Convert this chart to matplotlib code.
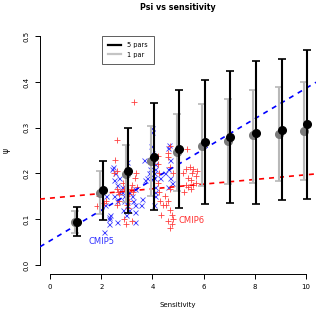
import matplotlib
matplotlib.use("Agg")
import matplotlib.pyplot as plt
from matplotlib.lines import Line2D

# Sensitivity values for the fitted error bars
sens = [1, 2, 3, 4, 5, 6, 7, 8, 9, 10]

# 5 parameter fit (black)
psi5 = [0.094, 0.163, 0.205, 0.236, 0.254, 0.268, 0.279, 0.289, 0.296, 0.308]
psi5_lo = [0.064, 0.098, 0.113, 0.120, 0.124, 0.133, 0.136, 0.134, 0.142, 0.145]
psi5_hi = [0.126, 0.227, 0.299, 0.353, 0.382, 0.404, 0.423, 0.445, 0.450, 0.469]

# 1 parameter fit (grey)
psi1 = [0.094, 0.158, 0.199, 0.227, 0.246, 0.261, 0.270, 0.283, 0.287, 0.293]
psi1_lo = [0.070, 0.111, 0.138, 0.150, 0.162, 0.172, 0.177, 0.180, 0.183, 0.185]
psi1_hi = [0.118, 0.205, 0.263, 0.303, 0.330, 0.352, 0.363, 0.383, 0.389, 0.401]

# CMIP5 models (blue x)
cmip5_x = [2.12, 2.30, 2.30, 2.30, 2.32, 2.60, 2.15, 2.20, 2.40, 2.45, 2.55, 2.50, 2.60,
           2.70, 2.80, 2.80, 2.90, 2.90, 2.85, 2.95, 3.00, 3.10, 3.10, 3.20, 3.25, 3.30,
           3.30, 3.30, 3.00, 3.30, 2.70, 2.60, 2.50, 3.55, 3.60, 3.70, 3.65, 3.80, 3.85,
           3.90, 4.00, 4.00, 4.05, 4.05, 4.10, 4.10, 4.10, 4.05, 4.10, 4.10, 3.95, 4.00,
           4.30, 4.50, 4.60, 4.70, 4.75, 4.60, 4.70, 4.65, 4.60]
cmip5_y = [0.071, 0.090, 0.100, 0.105, 0.110, 0.093, 0.130, 0.150, 0.210, 0.215, 0.200,
           0.185, 0.175, 0.190, 0.170, 0.160, 0.150, 0.140, 0.120, 0.110, 0.130, 0.120,
           0.160, 0.150, 0.140, 0.130, 0.115, 0.093, 0.225, 0.165, 0.160, 0.140, 0.150,
           0.130, 0.145, 0.185, 0.230, 0.190, 0.200, 0.210, 0.300, 0.290, 0.200, 0.190,
           0.170, 0.160, 0.150, 0.130, 0.210, 0.220, 0.260, 0.245, 0.190, 0.200, 0.210,
           0.190, 0.180, 0.170, 0.230, 0.262, 0.255]

# CMIP6 models (red +)
cmip6_x = [1.82, 1.90, 2.10, 2.20, 2.55, 2.60, 2.50, 2.60, 2.65, 2.70, 2.70, 2.60, 2.60,
           3.26, 2.90, 2.95, 3.00, 3.05, 3.10, 3.15, 3.20, 3.25, 3.30, 3.40, 3.35, 3.20,
           3.10, 3.00, 2.85, 2.90, 4.20, 4.20, 4.25, 4.20, 4.30, 4.35, 4.25, 4.40, 4.70,
           4.60, 4.60, 4.50, 4.60, 4.70, 4.75, 4.80, 4.75, 4.70, 4.60, 4.55, 4.70, 4.80,
           4.70, 5.34, 5.20, 5.30, 5.40, 5.50, 5.55, 5.60, 5.70, 5.75, 5.60, 5.40, 5.30,
           5.50, 5.70, 5.25, 5.45]
cmip6_y = [0.129, 0.150, 0.135, 0.140, 0.230, 0.205, 0.200, 0.165, 0.160, 0.155, 0.140,
           0.130, 0.273, 0.356, 0.100, 0.090, 0.130, 0.125, 0.155, 0.165, 0.175, 0.160,
           0.190, 0.170, 0.200, 0.095, 0.140, 0.150, 0.180, 0.165, 0.239, 0.220, 0.200,
           0.180, 0.140, 0.110, 0.160, 0.130, 0.260, 0.245, 0.235, 0.150, 0.140, 0.120,
           0.110, 0.100, 0.090, 0.080, 0.095, 0.130, 0.165, 0.200, 0.215, 0.254, 0.200,
           0.210, 0.190, 0.185, 0.200, 0.210, 0.195, 0.205, 0.175, 0.170, 0.175, 0.165,
           0.180, 0.160, 0.215]

# Regression lines (intercept, slope)
blue_fit = (0.053, 0.0333)
red_fit = (0.146, 0.0051)

fig = plt.figure(figsize=(3.2, 3.15), dpi=100)
ax = fig.add_axes([0.125, 0.130, 0.8625, 0.784])

xlim = (-0.4, 10.4)
ax.set_xlim(*xlim)
ax.set_ylim(-0.02, 0.52)

# scatter
ax.plot(cmip5_x, cmip5_y, linestyle='none', marker='x', color='#4040ff',
        markersize=3.6, markeredgewidth=0.6, zorder=2)
ax.plot(cmip6_x, cmip6_y, linestyle='none', marker='+', color='#ff4040',
        markersize=5, markeredgewidth=0.6, zorder=2)

# regression lines
ax.plot(xlim, [blue_fit[0] + blue_fit[1] * v for v in xlim], color='#0000ff',
        linestyle=(0, (3, 3)), linewidth=1.2, zorder=3)
ax.plot(xlim, [red_fit[0] + red_fit[1] * v for v in xlim], color='#ff0000',
        linestyle=(0, (3, 3)), linewidth=1.2, zorder=3)

# error bars
off = 0.05
xs1 = [s - off for s in sens]
xs5 = [s + off for s in sens]
ax.errorbar(xs1, psi1, yerr=[[p - l for p, l in zip(psi1, psi1_lo)],
                             [h - p for p, h in zip(psi1, psi1_hi)]],
            fmt='none', ecolor='#b8b8b8', elinewidth=1.5, capsize=3, capthick=1.2, zorder=4)
ax.plot(xs1, psi1, linestyle='none', marker='o', color='#7a7a7a', markersize=5.5, zorder=5)
ax.errorbar(xs5, psi5, yerr=[[p - l for p, l in zip(psi5, psi5_lo)],
                             [h - p for p, h in zip(psi5, psi5_hi)]],
            fmt='none', ecolor='black', elinewidth=1.5, capsize=3, capthick=1.2, zorder=6)
ax.plot(xs5, psi5, linestyle='none', marker='o', color='black', markersize=5.5, zorder=7)

# labels for groups
ax.text(1.99, 0.051, 'CMIP5', color='#3333ff', fontsize=6, ha='center', va='center')
ax.text(5.55, 0.098, 'CMIP6', color='#ff3333', fontsize=6, ha='center', va='center')

# R-style axes
for s in ['top', 'right']:
    ax.spines[s].set_visible(False)
ax.spines['left'].set_bounds(0, 0.5)
ax.spines['bottom'].set_bounds(0, 10)
ax.spines['left'].set_linewidth(0.7)
ax.spines['bottom'].set_linewidth(0.7)
ax.set_xticks([0, 2, 4, 6, 8, 10])
ax.set_yticks([0.0, 0.1, 0.2, 0.3, 0.4, 0.5])
ax.set_yticklabels(['0.0', '0.1', '0.2', '0.3', '0.4', '0.5'], rotation=90, va='center')
ax.tick_params(labelsize=5, length=3.5, width=0.7, pad=4)
ax.set_xlabel('Sensitivity', fontsize=5, labelpad=8)
ax.set_ylabel('ψ', fontsize=5.5, labelpad=9)
fig.text(0.555, 0.977, 'Psi vs sensitivity', fontsize=5.8, fontweight='bold',
         ha='center', va='center')

handles = [Line2D([], [], color='black', linewidth=1.6),
           Line2D([], [], color='#c4c4c4', linewidth=1.6)]
leg = ax.legend(handles, ['5 pars', '1 par'], loc='upper left',
                bbox_to_anchor=(0.2236, 0.965), borderaxespad=0, fontsize=4.7,
                fancybox=False, framealpha=1, edgecolor='#444444', handlelength=1.9,
                handletextpad=1.0, borderpad=1.0, labelspacing=0.5)
leg.get_frame().set_linewidth(0.6)

fig.savefig('out.png', dpi=100)
